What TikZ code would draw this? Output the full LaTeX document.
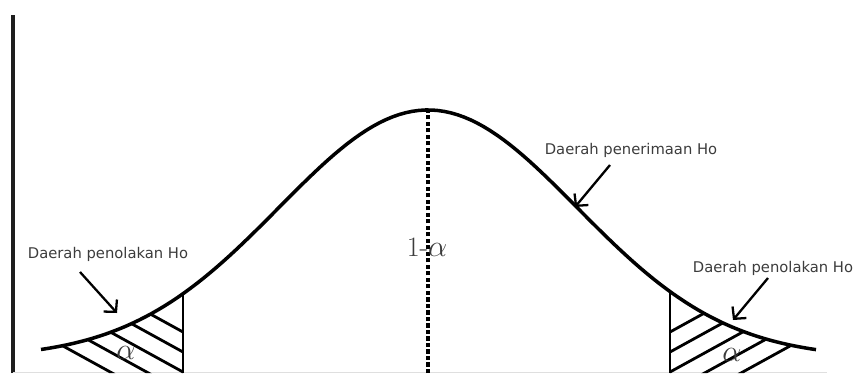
\documentclass[tikz,border=0pt]{standalone}
\usepackage{fontspec}
\usepackage{xcolor}
\usepackage{tikz}
\usetikzlibrary{arrows.meta}
\newfontfamily\labelfont{DejaVu Sans}
\definecolor{labelgray}{RGB}{60, 60, 60}
\definecolor{axisdark}{RGB}{30, 30, 30}
\tikzset{
    curveline/.style={line width=2pt, black},
    hatchline/.style={line width=1.6pt, black},
    regionlabel/.style={font=\labelfont\fontsize{8.4}{10}\selectfont, text=labelgray, inner sep=0pt},
    alphalabel/.style={font=\fontsize{16}{18}\selectfont, text=labelgray, inner sep=0pt},
    pointer/.style={line width=1.3pt, -{Straight Barb[length=1.7mm, width=3.6mm]}}
}

\begin{document}
\begin{tikzpicture}[x=0.02cm, y=0.02cm]
    \useasboundingbox (0,0) rectangle (857,373);

    % Axis
    \draw[line width=2pt, axisdark] (13,0) -- (13,358);
    \draw[gray!25, line width=0.5pt] (13,1) -- (827,1);

    % Hatched tails
    \begin{scope}
        \clip plot[domain=41:183, samples=40] (\x, {15+248*exp(-(((\x-428)/100)^2)/4.4463)}) -- (183,0) -- (41,0) -- cycle;
        \foreach \k in {0,...,4} {
            \draw[hatchline] (30, {41-20*\k+0.55*153}) -- (190, {41-20*\k-0.55*7});
        }
    \end{scope}
    \begin{scope}
        \clip plot[domain=670:816, samples=40] (\x, {15+248*exp(-(((\x-428)/100)^2)/4.4463)}) -- (816,0) -- (670,0) -- cycle;
        \foreach \k in {0,...,4} {
            \draw[hatchline] (662, {41-20*\k-0.55*8}) -- (830, {41-20*\k+0.55*160});
        }
    \end{scope}
    \draw[hatchline] (183,0) -- (183,80);
    \draw[hatchline] (670,0) -- (670,81);

    % Curve
    \draw[curveline] plot[domain=41:816, samples=120] (\x, {15+248*exp(-(((\x-428)/100)^2)/4.4463)});
    \draw[line width=1.8pt, dash pattern=on 2.4pt off 1.3pt] (428,0) -- (428,263);

    % Labels
    \node[alphalabel] (oneminus) at (427,126) {1-$\alpha$};
    \node[alphalabel] (alphaL) at (126,20) {$\alpha$};
    \node[alphalabel] (alphaR) at (732,18) {$\alpha$};
    \node[regionlabel] (tolakKiri) at (108,119) {Daerah penolakan Ho};
    \node[regionlabel] (tolakKanan) at (773,105) {Daerah penolakan Ho};
    \node[regionlabel] (terima) at (631,223) {Daerah penerimaan Ho};

    % Pointers
    \coordinate (tipKiri) at (117,60);
    \coordinate (tipKanan) at (733,53);
    \coordinate (tipTerima) at (575,166);
    \draw[pointer] ([shift={(-28,-18)}]tolakKiri.center) -- (tipKiri);
    \draw[pointer] ([shift={(-5,-10)}]tolakKanan.center) -- (tipKanan);
    \draw[pointer] ([shift={(-21,-15)}]terima.center) -- (tipTerima);
\end{tikzpicture}
\end{document}
